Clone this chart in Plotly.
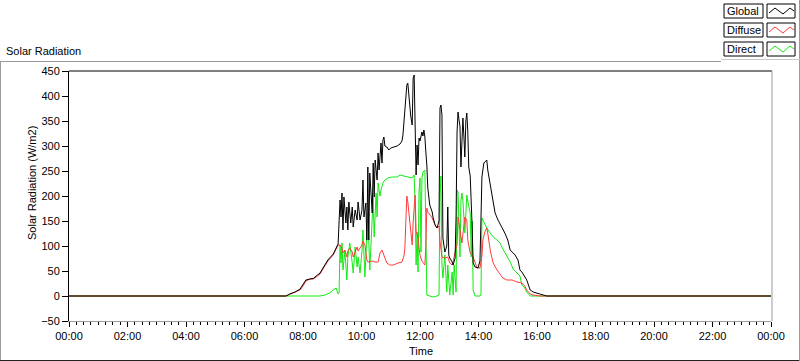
import pandas as pd
import plotly.graph_objects as go

# ---------------- data ----------------
global_t = ["00:00", "07:25", "07:33", "07:44", "07:54", "08:00", "08:06", "08:14", "08:21", "08:27",
            "08:35", "08:41", "08:51", "09:02", "09:08", "09:12", "09:16", "09:18", "09:20", "09:22",
            "09:24", "09:28", "09:30", "09:32", "09:34", "09:38", "09:41", "09:43", "09:47", "09:51",
            "09:53", "09:57", "10:01", "10:03", "10:05", "10:09", "10:11", "10:13", "10:15", "10:17",
            "10:22", "10:24", "10:26", "10:28", "10:32", "10:34", "10:36", "10:40", "10:42", "10:44",
            "10:46", "10:48", "10:52", "10:56", "11:00", "11:07", "11:13", "11:19", "11:23", "11:25",
            "11:29", "11:31", "11:33", "11:35", "11:37", "11:39", "11:41", "11:44", "11:46", "11:48",
            "11:50", "11:52", "11:54", "11:56", "11:58", "12:00", "12:04", "12:06", "12:08", "12:10",
            "12:12", "12:14", "12:16", "12:20", "12:25", "12:27", "12:31", "12:35", "12:39", "12:41",
            "12:43", "12:45", "12:47", "12:51", "12:55", "12:57", "12:59", "13:01", "13:06", "13:08",
            "13:12", "13:14", "13:16", "13:18", "13:20", "13:22", "13:24", "13:26", "13:28", "13:30",
            "13:32", "13:34", "13:36", "13:38", "13:40", "13:43", "13:45", "13:47", "13:49", "13:53",
            "13:59", "14:03", "14:05", "14:07", "14:11", "14:17", "14:19", "14:24", "14:28", "14:34",
            "14:40", "14:48", "14:54", "15:00", "15:05", "15:09", "15:15", "15:21", "15:25", "15:29",
            "15:33", "15:39", "15:46", "15:52", "16:06", "16:20", "24:00"]
global_v = [0, 0, 4, 8, 14, 22, 32, 34, 35, 40,
            46, 56, 72, 84, 96, 104, 192, 158, 206, 132,
            198, 146, 178, 132, 188, 146, 178, 138, 172, 152,
            188, 152, 172, 232, 158, 186, 112, 258, 112, 246,
            166, 266, 198, 272, 232, 286, 252, 306, 266, 312,
            318, 300, 298, 292, 296, 298, 300, 304, 310, 322,
            376, 410, 422, 426, 400, 382, 360, 342, 436, 442,
            300, 242, 302, 262, 316, 310, 328, 320, 332, 318,
            288, 262, 216, 182, 168, 156, 142, 136, 150, 376,
            382, 362, 116, 88, 100, 178, 82, 76, 68, 62,
            76, 160, 328, 368, 352, 340, 258, 336, 356, 320,
            278, 350, 366, 330, 258, 240, 200, 138, 66, 58,
            56, 70, 152, 238, 266, 272, 252, 226, 198, 166,
            152, 138, 126, 112, 92, 88, 82, 72, 52, 48,
            42, 32, 12, 8, 4, 0, 0]

diffuse_t = ["00:00", "07:25", "07:33", "07:44", "07:54", "08:00", "08:06", "08:14", "08:21", "08:27",
             "08:35", "08:41", "08:51", "09:02", "09:08", "09:12", "09:16", "09:20", "09:22", "09:26",
             "09:30", "09:32", "09:36", "09:41", "09:43", "09:47", "09:51", "09:53", "09:57", "10:01",
             "10:03", "10:07", "10:11", "10:13", "10:22", "10:28", "10:34", "10:38", "10:42", "10:44",
             "10:48", "10:52", "10:58", "11:05", "11:15", "11:23", "11:27", "11:29", "11:31", "11:33",
             "11:35", "11:39", "11:44", "11:46", "11:50", "11:52", "11:56", "11:58", "12:00", "12:04",
             "12:10", "12:12", "12:14", "12:16", "12:20", "12:25", "12:31", "12:35", "12:39", "12:41",
             "12:45", "12:51", "12:57", "13:01", "13:06", "13:08", "13:12", "13:16", "13:18", "13:22",
             "13:26", "13:32", "13:36", "13:38", "13:43", "13:49", "13:53", "13:57", "14:03", "14:07",
             "14:09", "14:13", "14:17", "14:19", "14:24", "14:30", "14:38", "14:44", "14:50", "14:58",
             "15:09", "15:19", "15:29", "15:35", "15:39", "15:46", "15:52", "16:06", "24:00"]
diffuse_v = [0, 0, 4, 8, 12, 20, 30, 34, 34, 38,
             44, 54, 70, 82, 94, 102, 102, 96, 86, 92,
             78, 90, 96, 88, 78, 90, 98, 90, 96, 102,
             110, 102, 72, 68, 70, 68, 68, 86, 92, 86,
             78, 66, 62, 62, 66, 68, 80, 96, 150, 200,
             188, 142, 102, 148, 202, 130, 116, 96, 82, 70,
             62, 100, 176, 168, 162, 156, 142, 136, 140, 110,
             78, 76, 78, 66, 62, 68, 88, 102, 158, 126,
             106, 158, 152, 112, 86, 78, 66, 56, 56, 80,
             112, 128, 136, 126, 92, 66, 52, 44, 36, 32,
             32, 28, 26, 20, 12, 4, 2, 0, 0]

direct_t = ["00:00", "07:25", "08:35", "08:45", "08:55", "09:02", "09:08", "09:12", "09:14", "09:16",
            "09:18", "09:20", "09:22", "09:26", "09:30", "09:32", "09:36", "09:41", "09:43", "09:47",
            "09:51", "09:53", "09:57", "10:01", "10:03", "10:07", "10:11", "10:13", "10:17", "10:22",
            "10:24", "10:26", "10:30", "10:32", "10:34", "10:38", "10:40", "10:44", "10:48", "10:54",
            "11:03", "11:13", "11:19", "11:27", "11:35", "11:44", "11:48", "11:50", "11:52", "11:54",
            "11:56", "11:58", "12:00", "12:02", "12:04", "12:06", "12:10", "12:12", "12:14", "12:20",
            "12:27", "12:35", "12:39", "12:41", "12:43", "12:45", "12:47", "12:51", "12:55", "12:57",
            "13:01", "13:06", "13:08", "13:10", "13:14", "13:16", "13:18", "13:22", "13:24", "13:26",
            "13:28", "13:32", "13:36", "13:38", "13:43", "13:45", "13:47", "13:49", "13:53", "14:03",
            "14:05", "14:07", "14:13", "14:17", "14:24", "14:30", "14:38", "14:44", "14:50", "14:58",
            "15:05", "15:11", "15:19", "15:25", "15:29", "15:35", "15:39", "15:46", "24:00"]
direct_v = [0, 0, 0, 2, 6, 12, 16, 4, 6, 102,
            66, 106, 52, 90, 32, 78, 106, 66, 46, 98,
            58, 78, 46, 90, 132, 38, 132, 166, 52, 178,
            198, 118, 206, 158, 226, 200, 212, 226, 232, 236,
            238, 238, 242, 240, 238, 236, 242, 182, 62, 128,
            48, 208, 236, 88, 236, 248, 252, 76, 2, 0,
            -2, 0, 2, 200, 240, 62, 36, 82, 8, 62,
            2, 48, 2, 62, 8, 212, 208, 78, 190, 206,
            190, 126, 202, 190, 166, 78, 150, 12, 0, 0,
            2, 156, 142, 136, 126, 118, 112, 106, 94, 80,
            68, 54, 46, 40, 22, 16, 8, 0, 0]

series_names = ["Global", "Diffuse", "Direct"]
series_colors = ["#000000", "#ff3c3c", "#12ea12"]

y_ticks = [-50, 0, 50, 100, 150, 200, 250, 300, 350, 400, 450]

# ---------------- helpers ----------------
BASE = pd.Timestamp("2000-01-01")


def to_dt(times):
    return [BASE + pd.to_timedelta(t + ":00") for t in times]


# plot area in pixels: x 69..771, y 71..321
L, T, W, H = 69, 71, 702, 250


def PX(x):
    return (x - L) / W


def PY(y):
    return (T + H - y) / H


FONT = "Liberation Sans, Arial, sans-serif"

fig = go.Figure()
data = {"Global": (global_t, global_v), "Diffuse": (diffuse_t, diffuse_v), "Direct": (direct_t, direct_v)}
# draw Direct first, Global last (on top)
for name in ["Direct", "Diffuse", "Global"]:
    t, v = data[name]
    fig.add_trace(go.Scatter(
        x=to_dt(t), y=v, mode="lines", name=name,
        line=dict(color=series_colors[series_names.index(name)], width=1),
        showlegend=False, hoverinfo="x+y"))

shapes = []


def line(x0, y0, x1, y1, color, width=1):
    shapes.append(dict(type="line", xref="paper", yref="paper",
                       x0=PX(x0), y0=PY(y0), x1=PX(x1), y1=PY(y1),
                       line=dict(color=color, width=width), layer="above"))


# outer frame
line(0, 61.5, 721, 61.5, "#9a9a9a")
line(0.5, 61, 0.5, 361, "#9a9a9a")
line(0, 360.5, 800, 360.5, "#202020")
line(799.5, 0, 799.5, 361, "#9a9a9a")
line(721, 59.5, 800, 59.5, "#c8c8c8")
# plot area top and right edges
line(L, T, L + W + 1, T, "#000000")
line(L + W + 1, T, L + W + 1, T + H, "#9a9a9a")

annotations = []

# legend (LabVIEW style)
rows_top = [4, 23, 42]
row_h = 14
for i, name in enumerate(series_names):
    y0 = rows_top[i]
    shapes.append(dict(type="rect", xref="paper", yref="paper",
                       x0=PX(724), x1=PX(763), y0=PY(y0), y1=PY(y0 + row_h),
                       line=dict(color="#000000", width=1), fillcolor="white"))
    shapes.append(dict(type="rect", xref="paper", yref="paper",
                       x0=PX(767), x1=PX(795), y0=PY(y0), y1=PY(y0 + row_h),
                       line=dict(color="#000000", width=1), fillcolor="white"))
    mid = y0 + row_h / 2
    pts = [(769, mid + 2), (775, mid - 3), (783, mid + 3), (790, mid - 3), (794, mid)]
    path = "M " + " L ".join(f"{PX(px):.5f},{PY(py):.5f}" for px, py in pts)
    shapes.append(dict(type="path", xref="paper", yref="paper", path=path,
                       line=dict(color=series_colors[i], width=1)))
    annotations.append(dict(text=name, xref="paper", yref="paper", x=PX(725), y=PY(mid),
                            xanchor="left", yanchor="middle", showarrow=False,
                            font=dict(family=FONT, size=11, color="#000000")))

annotations.append(dict(text="Solar Radiation", xref="paper", yref="paper", x=PX(4), y=PY(51),
                        xanchor="left", yanchor="middle", showarrow=False,
                        font=dict(family=FONT, size=11, color="#000000")))
annotations.append(dict(text="Solar Radiation (W/m2)", xref="paper", yref="paper", x=PX(32), y=PY(183),
                        xanchor="center", yanchor="middle", showarrow=False, textangle=-90,
                        font=dict(family=FONT, size=11, color="#000000")))
annotations.append(dict(text="Time", xref="paper", yref="paper", x=PX(421), y=PY(351),
                        xanchor="center", yanchor="middle", showarrow=False,
                        font=dict(family=FONT, size=11, color="#000000")))

fig.update_layout(
    template="none",
    width=800, height=361, autosize=False,
    margin=dict(l=L, r=800 - L - W, t=T, b=361 - T - H, pad=0),
    paper_bgcolor="white", plot_bgcolor="white",
    font=dict(family=FONT, size=11, color="#000000"),
    shapes=shapes, annotations=annotations,
    xaxis=dict(type="date", range=[BASE, BASE + pd.Timedelta(hours=24)],
               tickformat="%H:%M", dtick=2 * 3600 * 1000, tick0=BASE,
               ticks="outside", ticklen=5, tickcolor="#000000", tickwidth=1,
               showline=True, linecolor="#9a9a9a", linewidth=1,
               showgrid=False, zeroline=False,
               tickfont=dict(family=FONT, size=11, color="#000000"),
               minor=dict(dtick=15 * 60 * 1000, ticks="outside", ticklen=3,
                          tickcolor="#000000", showgrid=False)),
    yaxis=dict(range=[-50, 450], tickvals=y_ticks, ticks="outside", ticklen=6,
               tickcolor="#000000", tickwidth=1,
               showline=True, linecolor="#000000", linewidth=1,
               showgrid=False, zeroline=False,
               tickfont=dict(family=FONT, size=11, color="#000000")),
)

fig.write_html("out.html", config={"displayModeBar": False},
               post_script="document.body.style.margin='0';document.body.style.padding='0';"
                           "document.documentElement.style.overflow='hidden';")
